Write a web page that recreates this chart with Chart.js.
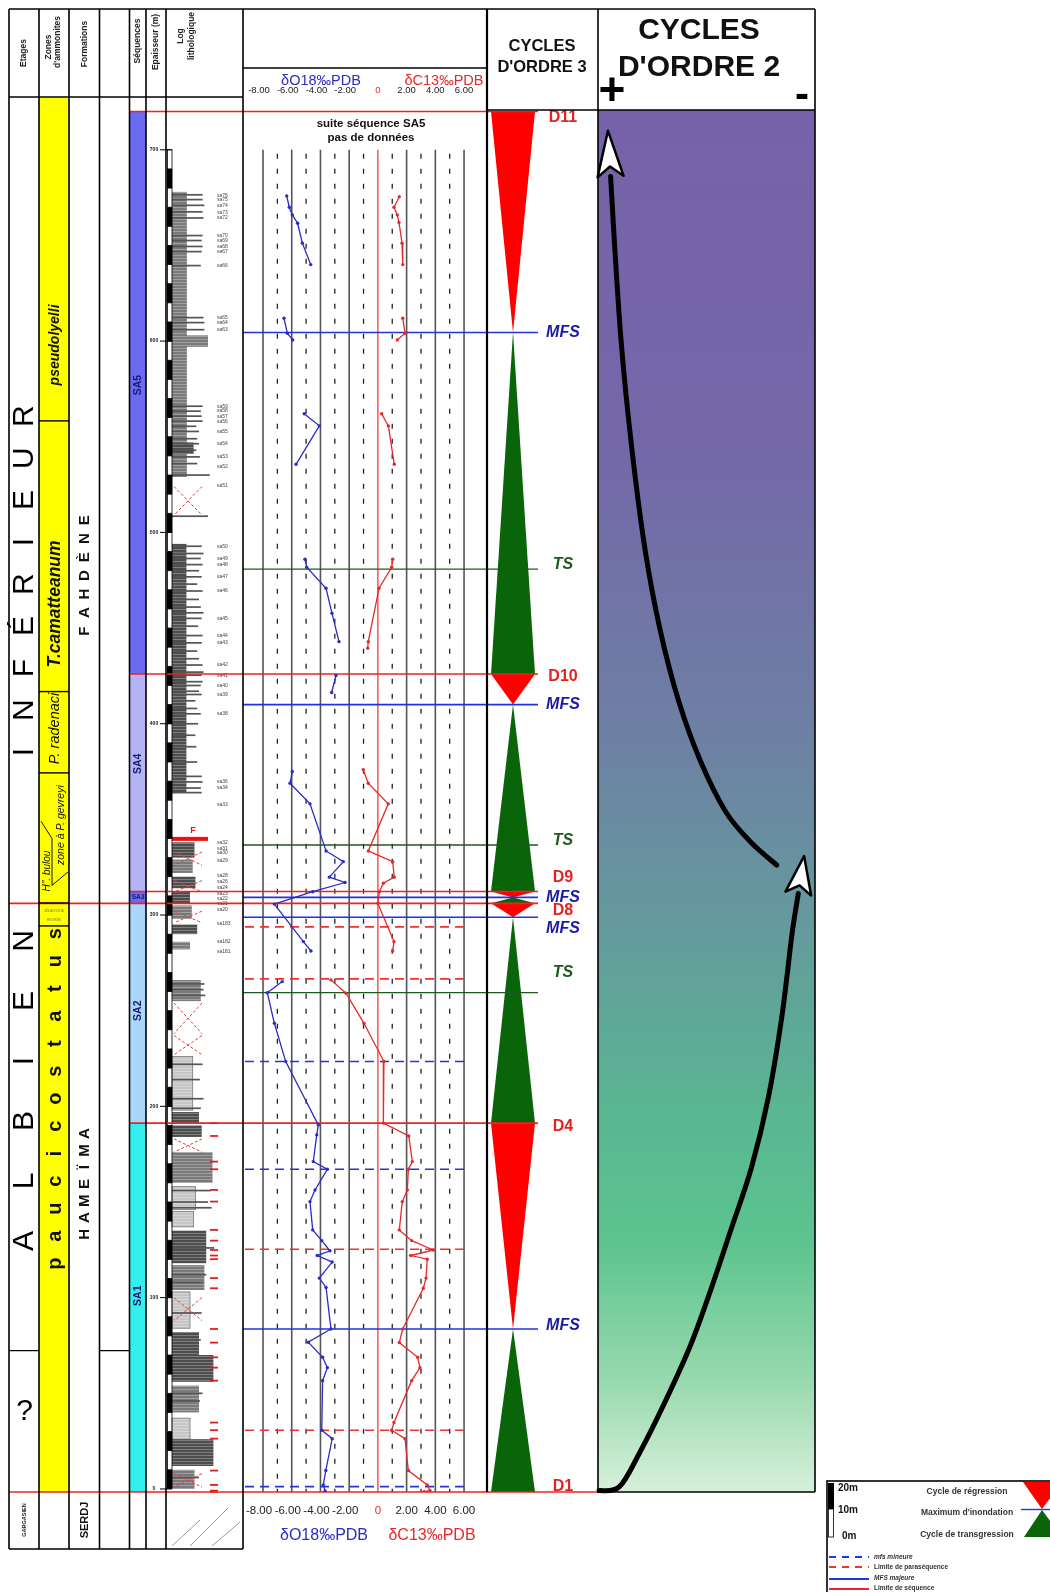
<!DOCTYPE html>
<html>
<head>
<meta charset="utf-8">
<script src="https://cdn.jsdelivr.net/npm/chart.js@4.4.1/dist/chart.umd.min.js"></script>
<style>
  html, body { margin: 0; padding: 0; background: #fff; }
  #wrap { position: relative; width: 1050px; height: 1592px; }
</style>
</head>
<body>
<div id="wrap"><canvas id="strat" width="1050" height="1592"></canvas></div>
<script>
// ─────────────────────────────────────────────
//  Coupe Albien inférieur — isotopes, séquences, cycles
//  All depths are metres above the base of the section.
// ─────────────────────────────────────────────

// ── Isotope curves (null = no data, breaks the line) ──
const o18Depth = [675.9, 670, 666, 661.6, 651.2, 640, null,
  612, 604.1, 600.6, null,
  562, 555.7, 535.6, null,
  486, 481.8, 470.8, 457.8, 442.9, null,
  425.2, 416.3, null,
  375, 368.9, 358.1, 333.5, 327.9, 319.8, 317, 312.2, 305.7, 286.1, 281.2, null,
  265.2, 259.4, 243.4, 223.4, 190.3, 185.1, 171.1, 167.1, 156.3, 150.2, 135.4, 129.8, 124.5, 122, 118.6,
  110.2, 105.3, 83.6, 76.7, 68.8, 63.4, 56.6, 30.7, 26.3, 9.6, 2.1, -1.0];
const o18Value = [-6.35, -6.17, -5.96, -5.59, -5.26, -4.68, null,
  -6.54, -6.31, -5.93, null,
  -5.13, -4.08, -5.70, null,
  -5.08, -4.96, -3.61, -3.20, -2.71, null,
  -2.92, -3.22, null,
  -5.96, -6.12, -4.73, -3.61, -2.41, -3.38, -2.29, -4.54, -7.21, -5.19, -4.66, null,
  -6.66, -7.70, -7.21, -6.42, -4.15, -4.26, -4.50, -3.52, -4.38, -4.73, -4.54, -3.91, -3.34, -4.22, -3.18,
  -4.08, -3.61, -3.27, -4.85, -3.85, -3.52, -3.85, -3.91, -3.18, -3.63, -3.80, -3.68];

const c13Depth = [675.5, 670, 666, 662, 651.2, 640, null,
  612, 604.1, 600.6, null,
  562, 555.7, 535.6, null,
  486, 481.8, 470.8, 442.9, 439.5, null,
  375.9, 368.9, 358.1, 333.5, 327.9, 319.8, 316.6, 312.2, 306.2, 286.1, 281.2, null,
  266.1, 259.1, 243.4, 223.4, 191.2, 184.5, 171.1, 167.1, 156.3, 150.2, 135.4, 129.8, 124.9, 122, 120.1,
  110.2, 104.9, 83.6, 76.5, 68.8, 63.4, 56.6, 34.7, 30.7, 26.3, 9.6, 2.1, -0.9, -1.4];
const c13Value = [1.49, 1.12, 1.35, 1.47, 1.68, 1.73, null,
  1.73, 1.89, 1.35, null,
  0.26, 0.73, 1.14, null,
  1.03, 0.96, 0.08, -0.67, -0.71, null,
  -1.02, -0.67, 0.72, -0.67, 1.03, 1.14, 0.38, 0.10, -0.01, 1.12, 1.03, null,
  -3.27, -2.22, -0.97, 0.42, 0.38, 2.15, 2.40, 2.12, 2.05, 1.70, 1.49, 2.35, 3.86, 2.29, 3.44,
  3.35, 3.16, 1.73, 1.49, 2.77, 2.93, 2.35, 1.12, 0.96, 1.89, 2.12, 3.44, 3.63, 3.21];

const isoTicks = [-8, -6, -4, -2, 0, 2, 4, 6];
const isoTickLabels = ['-8.00', '-6.00', '-4.00', '-2.00', '0', '2.00', '4.00', '6.00'];
const isoMinorTicks = [-7, -5, -3, -1, 1, 3, 5];
const depthTicks = [0, 100, 200, 300, 400, 500, 600, 700];

// ── Key surfaces ──
const surfDepth = [720, 604.5, 480.8, 426, 410, 336.6, 312.3, 309.2, 306.1, 298.8, 259.4, 191.2, 83.6, -1.6];
const surfKind = ['SB', 'MFS', 'TS', 'SB', 'MFS', 'TS', 'SB', 'MFS', 'SB', 'MFS', 'TS', 'SB', 'MFS', 'SB'];
const surfLabel = ['D11', 'MFS', 'TS', 'D10', 'MFS', 'TS', 'D9', 'MFS', 'D8', 'MFS', 'TS', 'D4', 'MFS', 'D1'];
const minorDepth = [293.8, 266.6, 223.4, 167.1, 125.3, 30.7, 1.2];
const minorKind = ['PS', 'PS', 'mfs', 'mfs', 'PS', 'PS', 'mfs'];

// ── 3rd order cycles (R = régression, T = transgression) ──
const cycleTop = [720, 604.5, 426, 410, 312.3, 309.2, 306.1, 298.8, 191.2, 83.6];
const cycleBase = [604.5, 426, 410, 312.3, 309.2, 306.1, 298.8, 191.2, 83.6, -1.6];
const cycleKind = ['R', 'T', 'R', 'T', 'R', 'T', 'R', 'T', 'R', 'T'];

// ── Sequences ──
const seqNames = ['SA5', 'SA4', 'SA3', 'SA2', 'SA1'];
const seqTop = [720, 426, 312.3, 306.1, 191.2];
const seqBase = [426, 312.3, 306.1, 191.2, -1.6];
const seqLabelDepth = [577, 379, 309.2, 250, 101];

// ── Ammonite zones ──
const zoneTop = [727.6, 558.3, 416.8, 374.3, 306.3, 294.3];
const zoneBase = [558.3, 416.8, 374.3, 306.3, 294.3, -1.6];

// ── 2nd order cycle curves (position across column 0 = +, 1 = -) ──
const riseDepth = [-0.9, 1.2, 19.2, 45.8, 75, 104.2, 136, 167.9, 205.1, 247.5, 290, 311.2];
const risePos = [0.005, 0.099, 0.193, 0.31, 0.426, 0.52, 0.614, 0.707, 0.786, 0.848, 0.894, 0.923];
const fallDepth = [326.1, 337.8, 353.7, 380.2, 412.1, 449.2, 491.7, 544.8, 597.9, 651, 686];
const fallPos = [0.824, 0.707, 0.59, 0.473, 0.371, 0.286, 0.216, 0.155, 0.108, 0.076, 0.058];

// ── Lithological log ──
const bedTop = [678, 603, 547, 494, 338, 329, 320, 312, 305, 295, 286, 266, 226, 197, 190, 176, 158, 145, 135, 117, 103, 82, 70, 54, 37, 26, 10];
const bedBase = [529, 597, 541, 364, 330, 322, 314, 306, 298, 290, 282, 255, 198, 191, 184, 160, 146, 137, 118, 104, 84, 70, 56, 40, 26, 12, 0];
const bedLevel = [1.65, 4.0, 2.4, 1.6, 2.5, 2.3, 2.6, 2.0, 2.2, 2.8, 2.0, 3.2, 2.3, 3.0, 3.3, 4.5, 2.6, 2.4, 3.8, 3.6, 2.0, 3.0, 4.6, 3.0, 2.0, 4.6, 2.5];
const bedTone = [1, 1, 0, 0, 0, 1, 0, 0, 1, 0, 1, 1, 2, 0, 0, 1, 2, 2, 0, 1, 2, 0, 0, 1, 2, 0, 1];
const barDepth = [676.5, 674, 671, 667.6, 664.4, 655.2, 652.6, 649.5, 646.8, 639.5, 612.3, 609.7, 606,
  566, 563.4, 560.8, 558.2, 555.5, 552.8, 549, 546.4, 543, 539.5, 536, 530, 508.5,
  492.8, 489, 486.4, 483.2, 480, 476.8, 473, 469.4, 465, 461, 458, 455.1, 451, 446.1, 442.3, 438, 434,
  430.7, 427, 425.4, 422, 420, 417, 415.3, 412, 408, 405.2, 400, 394, 388, 380, 372.5, 369.6, 366.4, 364,
  264, 261, 258, 222, 214, 204, 199, 156, 150, 147, 126, 112, 108, 92, 78, 50, 46, 6];
const barLevel = [3.4, 3.4, 3.6, 3.4, 3.5, 3.4, 3.3, 3.4, 3.3, 3.2, 3.5, 3.6, 3.6,
  3.4, 3.2, 3.3, 3.4, 2.7, 3.0, 2.8, 3.0, 2.7, 3.1, 2.8, 4.2, 4.0,
  3.3, 3.5, 3.2, 3.4, 3.0, 3.3, 2.8, 3.4, 3.0, 3.2, 3.5, 3.3, 2.9, 3.4, 3.3, 2.8, 3.0,
  3.4, 3.5, 3.3, 3.4, 3.2, 3.0, 3.3, 2.6, 2.8, 3.2, 2.9, 2.6, 2.7, 2.8, 3.3, 3.4, 3.2, 3.3,
  3.6, 3.5, 3.7, 3.4, 3.1, 3.5, 3.2, 4.3, 4.0, 4.4, 4.7, 3.8, 3.5, 3.3, 3.2, 3.4, 3.1, 3.0];
const crossTop = [524, 333, 318, 302, 254, 237, 183, 100, 8];
const crossBase = [509, 326, 312, 296, 238, 227, 176, 88, 1];
const faultDepth = 339.8;

const sampleNames = ['sa76', 'sa75', 'sa74', 'sa73', 'sa72', 'sa70', 'sa69', 'sa68', 'sa67', 'sa66', 'sa65', 'sa64', 'sa63',
  'sa59', 'sa58', 'sa57', 'sa56', 'sa55', 'sa54', 'sa53', 'sa52', 'sa51', 'sa50', 'sa49', 'sa48', 'sa47', 'sa46',
  'sa45', 'sa44', 'sa43', 'sa42', 'sa41', 'sa40', 'sa39', 'sa38', 'sa36', 'sa34', 'sa33', 'sa32', 'sa31', 'sa30',
  'sa29', 'sa28', 'sa26', 'sa24', 'sa23', 'sa22', 'sa21', 'sa20', 'sa183', 'sa182', 'sa181'];
const sampleDepth = [675.9, 673.8, 670.6, 667.4, 664.3, 655.2, 652.6, 649.4, 646.8, 639.3, 612.2, 609.6, 605.9,
  566, 563.4, 560.7, 558.1, 552.8, 546.4, 539.5, 534.2, 524.6, 492.8, 486.4, 483.2, 476.8, 469.4,
  455.1, 446.1, 442.3, 430.7, 425.4, 420, 415.3, 405.2, 369.6, 366.4, 357.9, 337.8, 334.6, 332.4,
  328.2, 320.8, 317.6, 314.4, 311.2, 308.5, 305.9, 302.7, 295.3, 286.3, 281];

// ── Layout (px) ──
const FONT = '"Liberation Sans", Arial, sans-serif';
const colX = [9, 39, 69, 99.5, 129.5, 146, 166, 243];
const ISO_R = 487, C3_R = 598, C2_R = 815;
const TOP = 9, HEAD_Y = 97, HEAD_C = 110, TABLE_BOT = 1549;
const LOG_L = 172;
const TRI_CX = 513, TRI_HW = 22;
const seqColors = ['#6b6bf2', '#b3b3f6', '#6b6bf2', '#aad6f7', '#35eef0'];
const bedColors = ['#4d4d4d', '#7a7a7a', '#c6c6c6'];
const gradStops = [[0, '#7662a9'], [0.25, '#7468a8'], [0.45, '#6e80a4'], [0.6, '#649c9c'],
  [0.72, '#5ab592'], [0.82, '#5cc48f'], [0.92, '#98d9ae'], [1, '#d8f0dc']];
const labelDy = [6, 0, -5, 3, 0, -4, -14, 0, 7, 11, -20, 3, -3, -5];
const BLUE = '#2b2bc8', RED = '#e42a2a';

function font(spec) {
  return `${spec} ${FONT}`;
}

function toPoints(depths, values) {
  return depths.map((d, i) => (d === null ? { x: null, y: null } : { x: values[i], y: d }));
}

function vText(ctx, txt, x, y, spec, color, spacing) {
  ctx.save();
  ctx.translate(x, y);
  ctx.rotate(-Math.PI / 2);
  ctx.font = font(spec);
  ctx.fillStyle = color;
  ctx.textAlign = 'center';
  ctx.textBaseline = 'middle';
  if (spacing) {
    const chars = [...txt];
    const w = (chars.length - 1) * spacing;
    chars.forEach((c, i) => ctx.fillText(c, -w / 2 + i * spacing, 0));
  } else {
    ctx.fillText(txt, 0, 0);
  }
  ctx.restore();
}

function hText(ctx, txt, x, y, spec, color, align) {
  ctx.font = font(spec);
  ctx.fillStyle = color;
  ctx.textAlign = align || 'center';
  ctx.textBaseline = 'middle';
  ctx.fillText(txt, x, y);
}

function line(ctx, x1, y1, x2, y2, color, w, dash) {
  ctx.beginPath();
  ctx.setLineDash(dash || []);
  ctx.strokeStyle = color;
  ctx.lineWidth = w;
  ctx.moveTo(x1, y1);
  ctx.lineTo(x2, y2);
  ctx.stroke();
  ctx.setLineDash([]);
}

function smoothPath(ctx, pts) {
  ctx.moveTo(pts[0][0], pts[0][1]);
  for (let i = 0; i < pts.length - 1; i++) {
    const p0 = pts[Math.max(i - 1, 0)], p1 = pts[i], p2 = pts[i + 1], p3 = pts[Math.min(i + 2, pts.length - 1)];
    ctx.bezierCurveTo(p1[0] + (p2[0] - p0[0]) / 6, p1[1] + (p2[1] - p0[1]) / 6,
      p2[0] - (p3[0] - p1[0]) / 6, p2[1] - (p3[1] - p1[1]) / 6, p2[0], p2[1]);
  }
}

function arrowCurve(ctx, pts, headLen) {
  ctx.save();
  ctx.beginPath();
  smoothPath(ctx, pts);
  ctx.strokeStyle = '#000';
  ctx.lineWidth = 5;
  ctx.lineCap = 'round';
  ctx.lineJoin = 'round';
  ctx.stroke();
  // white arrowhead with black outline
  const p = pts[pts.length - 1], q = pts[pts.length - 2];
  let ux = p[0] - q[0], uy = p[1] - q[1];
  const n = Math.hypot(ux, uy);
  ux /= n; uy /= n;
  const nx = -uy, ny = ux, hw = 13;
  ctx.beginPath();
  ctx.moveTo(p[0] + ux * headLen, p[1] + uy * headLen);
  ctx.lineTo(p[0] + nx * hw, p[1] + ny * hw);
  ctx.lineTo(p[0] + ux * headLen * 0.22, p[1] + uy * headLen * 0.22);
  ctx.lineTo(p[0] - nx * hw, p[1] - ny * hw);
  ctx.closePath();
  ctx.fillStyle = '#fff';
  ctx.fill();
  ctx.lineWidth = 2.5;
  ctx.stroke();
  ctx.restore();
}

function stripePattern(ctx) {
  const c = document.createElement('canvas');
  c.width = 6; c.height = 3;
  const g = c.getContext('2d');
  g.fillStyle = 'rgba(255,255,255,0.28)';
  g.fillRect(0, 0, 6, 1);
  return ctx.createPattern(c, 'repeat');
}

const stratPlugin = {
  id: 'strat',
  beforeDatasetsDraw(chart) {
    const ctx = chart.ctx;
    const Y = (d) => chart.scales.y.getPixelForValue(d);
    const X = (v) => chart.scales.x.getPixelForValue(v);
    const yBase = Y(-1.6);
    ctx.save();

    // ammonite zones (yellow)
    ctx.fillStyle = '#ffff00';
    ctx.fillRect(colX[1], Y(zoneTop[0]), colX[2] - colX[1], yBase - Y(zoneTop[0]));

    // sequences
    seqNames.forEach((n, i) => {
      ctx.fillStyle = seqColors[i];
      ctx.fillRect(colX[4], Y(seqTop[i]), colX[5] - colX[4], Y(seqBase[i]) - Y(seqTop[i]));
    });

    // 2nd order column background
    const g = ctx.createLinearGradient(0, HEAD_C, 0, yBase);
    gradStops.forEach(([o, c]) => g.addColorStop(o, c));
    ctx.fillStyle = g;
    ctx.fillRect(C3_R, HEAD_C, C2_R - C3_R, yBase - HEAD_C);

    // 3rd order triangles
    cycleKind.forEach((k, i) => {
      const yt = Y(cycleTop[i]), yb = Y(cycleBase[i]);
      ctx.beginPath();
      if (k === 'R') {
        ctx.moveTo(TRI_CX - TRI_HW, yt); ctx.lineTo(TRI_CX + TRI_HW, yt); ctx.lineTo(TRI_CX, yb);
        ctx.fillStyle = '#ff0000';
      } else {
        ctx.moveTo(TRI_CX, yt); ctx.lineTo(TRI_CX + TRI_HW, yb); ctx.lineTo(TRI_CX - TRI_HW, yb);
        ctx.fillStyle = '#0a640a';
      }
      ctx.closePath();
      ctx.fill();
    });

    // lithological log: beds
    const stripes = stripePattern(ctx);
    const lx = (lv) => LOG_L + lv * 9;
    bedTop.forEach((t, i) => {
      const yt = Y(t), yb = Y(bedBase[i]);
      ctx.fillStyle = bedColors[bedTone[i]];
      ctx.fillRect(LOG_L, yt, lx(bedLevel[i]) - LOG_L, yb - yt);
      ctx.fillStyle = stripes;
      ctx.fillRect(LOG_L, yt, lx(bedLevel[i]) - LOG_L, yb - yt);
      if (bedTone[i] === 2) {
        ctx.strokeStyle = '#777';
        ctx.lineWidth = 0.8;
        ctx.strokeRect(LOG_L, yt, lx(bedLevel[i]) - LOG_L, yb - yt);
      }
    });
    barDepth.forEach((d, i) => {
      ctx.fillStyle = '#555';
      ctx.fillRect(LOG_L, Y(d) - 0.8, lx(barLevel[i]) - LOG_L, 1.7);
    });
    crossTop.forEach((t, i) => {
      const yt = Y(t), yb = Y(crossBase[i]);
      line(ctx, LOG_L + 2, yt, LOG_L + 30, yb, '#e04040', 1, [3, 2]);
      line(ctx, LOG_L + 30, yt, LOG_L + 2, yb, '#e04040', 1, [3, 2]);
    });
    // fault marker
    ctx.fillStyle = '#ee1111';
    ctx.fillRect(LOG_L, Y(faultDepth) - 2, 36, 4);
    hText(ctx, 'F', 193, Y(faultDepth) - 8, 'bold 9px', '#ee1111');
    // sample ticks (lower part, red) and labels (upper part)
    c13Depth.forEach((d) => {
      if (d !== null && d < 192) line(ctx, 210, Y(d), 218, Y(d), '#e02020', 1.8);
    });
    sampleNames.forEach((s, i) => hText(ctx, s, 217, Y(sampleDepth[i]), '5px', '#444', 'left'));

    // thickness scale bar (10 m alternating)
    for (let d = 0; d < 700; d += 10) {
      const yt = Y(d + 10), yb = Y(d);
      if ((d / 10) % 2 === 0) {
        ctx.fillStyle = '#000';
        ctx.fillRect(colX[6] + 1, yt, 5.5, yb - yt);
      } else {
        ctx.strokeStyle = '#000';
        ctx.lineWidth = 0.8;
        ctx.strokeRect(colX[6] + 1.5, yt, 4.5, yb - yt);
      }
    }
    depthTicks.forEach((d) => {
      line(ctx, 160, Y(d), LOG_L, Y(d), '#000', 1);
      hText(ctx, String(d), 154, Y(d), 'bold 5px', '#222');
    });

    // isotope grid
    const gTop = Y(700);
    isoTicks.forEach((v) => {
      if (v === 0) line(ctx, X(v), gTop, X(v), yBase, '#e83030', 1.2);
      else line(ctx, X(v), gTop, X(v), yBase, '#555', 1.6);
    });
    isoMinorTicks.forEach((v) => line(ctx, X(v), gTop + 4, X(v), yBase, '#222', 1.3, [5, 10]));

    // minor surfaces
    minorDepth.forEach((d, i) => {
      const c = minorKind[i] === 'PS' ? '#ee3333' : '#2436d8';
      line(ctx, colX[7] + 2, Y(d), 465, Y(d), c, 1.6, [9, 6]);
    });

    // key surfaces
    surfDepth.forEach((d, i) => {
      const k = surfKind[i];
      const y = Y(d);
      if (k === 'SB') {
        const full = surfLabel[i] === 'D8' || surfLabel[i] === 'D1';
        line(ctx, full ? colX[0] : colX[4], y, surfLabel[i] === 'D1' ? C3_R : 538, y, '#ee2222', 1.6);
      } else if (k === 'MFS') {
        line(ctx, colX[7], y, 538, y, '#2233dd', 1.6);
      } else {
        line(ctx, colX[7], y, 538, y, '#1e5a1e', 1.3);
      }
    });
    ctx.restore();
  },

  afterDatasetsDraw(chart) {
    const ctx = chart.ctx;
    const Y = (d) => chart.scales.y.getPixelForValue(d);
    const X = (v) => chart.scales.x.getPixelForValue(v);
    const yBase = Y(-1.6);
    ctx.save();

    // surface labels
    surfLabel.forEach((s, i) => {
      const y = Y(surfDepth[i]) + labelDy[i];
      if (surfKind[i] === 'SB') hText(ctx, s, 563, y, 'bold 16px', '#e82020');
      else if (surfKind[i] === 'MFS') hText(ctx, s, 563, y, 'italic bold 16px', '#1a1aa8');
      else hText(ctx, s, 563, y, 'italic bold 16px', '#1e5a1e');
    });

    // table frame
    const k = '#000';
    colX.forEach((x) => line(ctx, x, TOP, x, TABLE_BOT, k, 1.6));
    line(ctx, colX[0], TOP, C2_R, TOP, k, 1.6);
    line(ctx, colX[0], HEAD_Y, colX[7], HEAD_Y, k, 1.4);
    line(ctx, colX[0], TABLE_BOT, colX[7], TABLE_BOT, k, 1.6);
    line(ctx, colX[7], 68, ISO_R, 68, k, 1.4);
    line(ctx, ISO_R, TOP, ISO_R, yBase, k, 2.2);
    line(ctx, C3_R, TOP, C3_R, yBase, k, 1.6);
    line(ctx, C2_R, TOP, C2_R, yBase, k, 1.6);
    line(ctx, ISO_R, HEAD_C, C2_R, HEAD_C, k, 1.4);
    line(ctx, C3_R, yBase, C2_R, yBase, k, 1.4);
    // zone boundaries
    zoneBase.forEach((d, i) => {
      if (i < zoneBase.length - 1) line(ctx, colX[1], Y(d), colX[2], Y(d), k, 1.4);
    });
    // "?" boundary
    line(ctx, colX[0], Y(72.3), colX[1], Y(72.3), k, 1.2);
    line(ctx, colX[3], Y(72.3), colX[4], Y(72.3), k, 1.2);
    // bottom row hatch
    [[172, 1546, 200, 1520], [190, 1546, 228, 1508], [212, 1546, 240, 1522]].forEach(([a, b, c, d]) =>
      line(ctx, a, b, c, d, '#999', 1));

    // header texts
    const hb = 'bold 8.5px';
    vText(ctx, 'Etages', 24, 53, hb, '#222');
    vText(ctx, 'Zones', 49, 47, hb, '#222');
    vText(ctx, "d'ammonites", 58, 42, hb, '#222');
    vText(ctx, 'Formations', 85, 44, hb, '#222');
    vText(ctx, 'Séquences', 137.5, 41, hb, '#222');
    vText(ctx, 'Epaisseur (m)', 156, 42, hb, '#222');
    vText(ctx, 'Log', 181, 36, hb, '#222');
    vText(ctx, 'lithologique', 192, 36, hb, '#222');

    // stages
    vText(ctx, 'INFÉRIEUR', 24.5, Y(473), '30px', '#000', 42);
    vText(ctx, 'ALBIEN', 24.5, Y(208), '30px', '#000', 60);
    hText(ctx, '?', 24.5, Y(40.5), '30px', '#000');
    vText(ctx, 'GARGASIEN', 24, 1520, 'bold 5.5px', '#222');

    // zones
    vText(ctx, 'pseudolyelli', 55, Y(598), 'italic bold 14px', '#111');
    vText(ctx, 'T.camatteanum', 55, Y(462.6), 'italic bold 17.5px', '#111');
    vText(ctx, 'P. radenaci', 55, Y(397.5), 'italic 14.5px', '#111');
    vText(ctx, 'zone à P. gevreyi', 61, Y(347), 'italic 10.5px', '#111');
    vText(ctx, 'H". bulou', 47.5, Y(323), 'italic 10px', '#111');
    ctx.beginPath();
    ctx.strokeStyle = '#111';
    ctx.lineWidth = 1;
    ctx.moveTo(41, Y(349));
    ctx.lineTo(52, Y(340));
    ctx.lineTo(52, Y(315.5));
    ctx.lineTo(68, Y(322.5));
    ctx.stroke();
    hText(ctx, 'duenza', 54, Y(302.5), '6px', '#8a8a40');
    hText(ctx, 'ensis', 54, Y(297.5), '6px', '#8a8a40');
    vText(ctx, 'paucicostatus', 55, Y(204), 'bold 20px', '#111', 27.5);

    // formations
    vText(ctx, 'FAHDÈNE', 85, Y(477.4), 'bold 15px', '#111', 18.5);
    vText(ctx, 'HAMEÏMA', 85, Y(159.4), 'bold 15px', '#111', 16.8);
    vText(ctx, 'SERDJ', 85, 1520, 'bold 11px', '#111');

    // sequences
    seqNames.forEach((n, i) => {
      if (n === 'SA3') hText(ctx, n, 138, Y(seqLabelDepth[i]), 'bold 6.5px', '#1a1a70');
      else vText(ctx, n, 138, Y(seqLabelDepth[i]), 'bold 10.5px', '#1a1a70');
    });

    // isotope header and axis labels
    hText(ctx, 'δO18‰PDB', 321, 81, '14.5px', BLUE);
    hText(ctx, 'δC13‰PDB', 444, 81, '14.5px', RED);
    hText(ctx, 'δO18‰PDB', 324, 1536, '16px', BLUE);
    hText(ctx, 'δC13‰PDB', 432, 1536, '16px', RED);
    isoTicks.forEach((v, i) => {
      const c = v === 0 ? RED : '#222';
      const dx = v < 0 ? -4 : 0;
      hText(ctx, isoTickLabels[i], X(v) + dx, 90.5, '9.5px', c);
      hText(ctx, isoTickLabels[i], X(v) + dx, 1511, '11.5px', c);
    });
    hText(ctx, 'suite séquence SA5', 371, 124, 'bold 11.5px', '#111');
    hText(ctx, 'pas de données', 371, 138, 'bold 11.5px', '#111');

    // cycles headers
    hText(ctx, 'CYCLES', 542, 46, 'bold 16.5px', '#111');
    hText(ctx, "D'ORDRE 3", 542, 67, 'bold 16.5px', '#111');
    hText(ctx, 'CYCLES', 699, 31, 'bold 30px', '#111');
    hText(ctx, "D'ORDRE 2", 699, 68, 'bold 30px', '#111');
    hText(ctx, '+', 612, 92, 'bold 46px', '#000');
    hText(ctx, '-', 802, 96, 'bold 42px', '#000');

    // 2nd order curves
    const cx = (p) => C3_R + p * (C2_R - C3_R);
    arrowCurve(ctx, riseDepth.map((d, i) => [cx(risePos[i]), Y(d)]), 38);
    arrowCurve(ctx, fallDepth.map((d, i) => [cx(fallPos[i]), Y(d)]), 46);

    // legend
    const L = 827, T = 1481;
    ctx.strokeStyle = '#000';
    ctx.lineWidth = 1.6;
    ctx.strokeRect(L, T, 260, 140);
    ctx.fillStyle = '#000';
    ctx.fillRect(L + 1, T + 2, 6, 26);
    ctx.lineWidth = 0.8;
    ctx.strokeRect(L + 1.5, T + 28, 5, 28);
    hText(ctx, '20m', 838, 1488, 'bold 10px', '#111', 'left');
    hText(ctx, '10m', 838, 1510, 'bold 10px', '#111', 'left');
    hText(ctx, '0m', 842, 1536, 'bold 10px', '#111', 'left');
    hText(ctx, 'Cycle de régression', 967, 1492, 'bold 8.5px', '#333');
    hText(ctx, "Maximum d'inondation", 967, 1513, 'bold 8.5px', '#333');
    hText(ctx, 'Cycle de transgression', 967, 1535, 'bold 8.5px', '#333');
    ctx.fillStyle = '#ff0000';
    ctx.beginPath(); ctx.moveTo(1023, 1482); ctx.lineTo(1062, 1482); ctx.lineTo(1042, 1509); ctx.closePath(); ctx.fill();
    ctx.fillStyle = '#0a640a';
    ctx.beginPath(); ctx.moveTo(1042, 1510); ctx.lineTo(1062, 1537); ctx.lineTo(1024, 1537); ctx.closePath(); ctx.fill();
    line(ctx, 1021, 1509.5, 1050, 1509.5, '#2233dd', 1.4);
    line(ctx, 829, 1557, 869, 1557, '#2436d8', 1.8, [7, 6]);
    line(ctx, 829, 1567, 869, 1567, '#ee3333', 1.8, [7, 6]);
    line(ctx, 829, 1579, 869, 1579, '#2233dd', 1.8);
    line(ctx, 829, 1589, 869, 1589, '#ee2222', 1.8);
    hText(ctx, 'mfs mineure', 874, 1557, 'italic bold 6.5px', '#333', 'left');
    hText(ctx, 'Limite de paraséquence', 874, 1567, 'bold 6.5px', '#333', 'left');
    hText(ctx, 'MFS majeure', 874, 1578, 'italic bold 6.5px', '#333', 'left');
    hText(ctx, 'Limite de séquence', 874, 1588, 'bold 6.5px', '#333', 'left');

    ctx.restore();
  },
};

new Chart(document.getElementById('strat'), {
  type: 'scatter',
  data: {
    datasets: [
      {
        label: 'δO18‰PDB',
        data: toPoints(o18Depth, o18Value),
        showLine: true,
        spanGaps: false,
        borderColor: BLUE,
        backgroundColor: BLUE,
        borderWidth: 1.3,
        pointRadius: 1.7,
        pointBorderWidth: 0,
        tension: 0,
      },
      {
        label: 'δC13‰PDB',
        data: toPoints(c13Depth, c13Value),
        showLine: true,
        spanGaps: false,
        borderColor: RED,
        backgroundColor: RED,
        borderWidth: 1.3,
        pointRadius: 1.7,
        pointBorderWidth: 0,
        tension: 0,
      },
    ],
  },
  options: {
    responsive: false,
    devicePixelRatio: 1,
    animation: false,
    layout: { padding: { left: 243, right: 1050 - ISO_R, top: HEAD_Y, bottom: 100 } },
    scales: {
      x: { type: 'linear', min: -9.394, max: 7.598, display: false },
      y: { type: 'linear', min: -1.6, max: 727.6, display: false },
    },
    plugins: { legend: { display: false }, tooltip: { enabled: false } },
  },
  plugins: [stratPlugin],
});
</script>
</body>
</html>
